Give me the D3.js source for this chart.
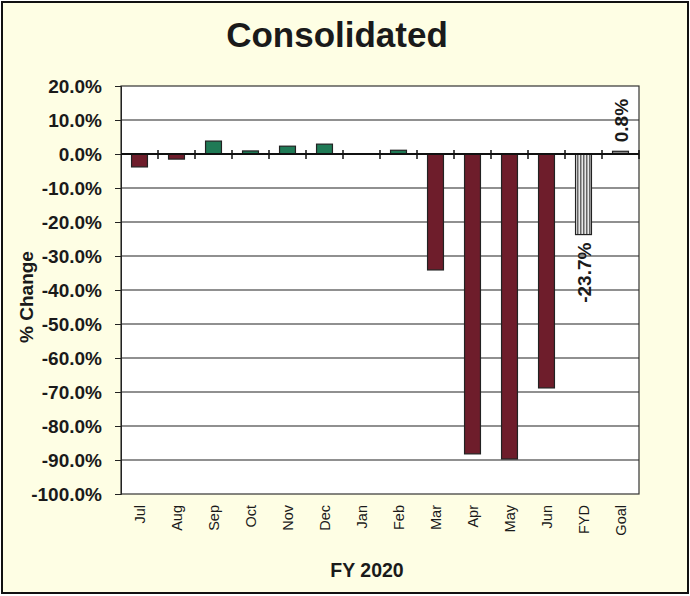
<!DOCTYPE html>
<html>
<head>
<meta charset="utf-8">
<script src="https://cdn.jsdelivr.net/npm/d3@7"></script>
<style>
  body { margin: 0; background: #fff; }
  svg { display: block; font-family: Arial, "Liberation Sans", sans-serif; }
</style>
</head>
<body>
<div id="chart"></div>
<script>
const months = ["Jul", "Aug", "Sep", "Oct", "Nov", "Dec", "Jan", "Feb", "Mar", "Apr", "May", "Jun", "FYD", "Goal"];
const changes = [-3.8, -1.5, 3.8, 0.9, 2.3, 2.9, 0.1, 1.1, -34.1, -88.2, -89.7, -68.8, -23.7, 0.8];
const yTicks = [20, 10, 0, -10, -20, -30, -40, -50, -60, -70, -80, -90, -100];
const labelled = { "FYD": "-23.7%", "Goal": "0.8%" };

const W = 690, H = 596;
const margin = { top: 86, right: 51, bottom: 102, left: 121 };
const width = W - margin.left - margin.right;
const height = H - margin.top - margin.bottom;

const svg = d3.select("#chart").append("svg")
    .attr("width", W)
    .attr("height", H);

// pattern for the FYD bar
const pat = svg.append("defs").append("pattern")
    .attr("id", "stripes")
    .attr("patternUnits", "userSpaceOnUse")
    .attr("width", 3).attr("height", 4);
pat.append("rect").attr("width", 3).attr("height", 4).attr("fill", "#e8e8e8");
pat.append("rect").attr("x", 0).attr("width", 1.5).attr("height", 4).attr("fill", "#666");

// background + frame
svg.append("rect")
    .attr("x", 2).attr("y", 2)
    .attr("width", W - 4).attr("height", H - 5)
    .attr("fill", "#fefee4")
    .attr("stroke", "#111")
    .attr("stroke-width", 2);

svg.append("text")
    .attr("x", 337).attr("y", 47)
    .attr("text-anchor", "middle")
    .style("font-size", "35px")
    .style("font-weight", "bold")
    .style("fill", "#1a1a1a")
    .text("Consolidated");

const g = svg.append("g")
    .attr("transform", `translate(${margin.left},${margin.top})`);

const x = d3.scaleBand()
    .domain(months)
    .range([0, width])
    .paddingInner(0.57)
    .paddingOuter(0.285);

const y = d3.scaleLinear()
    .domain([-100, 20])
    .range([height, 0]);

g.append("rect")
    .attr("width", width).attr("height", height)
    .attr("fill", "#fff");

// gridlines
g.selectAll(".grid")
    .data(yTicks.filter(d => d > -100 && d < 20))
    .enter().append("line")
    .attr("class", "grid")
    .attr("x1", 0).attr("x2", width)
    .attr("y1", d => y(d)).attr("y2", d => y(d))
    .attr("stroke", "#222")
    .attr("stroke-width", 1.2);

g.append("rect")
    .attr("width", width).attr("height", height)
    .attr("fill", "none")
    .attr("stroke", "#333")
    .attr("stroke-width", 1.2);

// bars
g.selectAll(".bar")
    .data(months)
    .enter().append("rect")
    .attr("class", "bar")
    .attr("x", (d) => x(d))
    .attr("width", x.bandwidth())
    .attr("y", (d, i) => y(Math.max(0, changes[i])))
    .attr("height", (d, i) => Math.abs(y(changes[i]) - y(0)))
    .attr("fill", (d, i) => {
        if (d === "FYD") return "url(#stripes)";
        if (d === "Goal") return "#8a8a8a";
        return changes[i] < 0 ? "#6e1d2b" : "#1f7a56";
    })
    .attr("stroke", "#222")
    .attr("stroke-width", 1.2);

// y axis
const yAxis = d3.axisLeft(y)
    .tickValues(yTicks)
    .tickSize(6)
    .tickFormat(d => d3.format(".1f")(d).replace("\u2212", "-") + "%");
const ya = g.append("g").call(yAxis);
ya.select(".domain").attr("stroke", "#222");
ya.selectAll(".tick line").attr("stroke", "#222");
ya.selectAll(".tick text")
    .attr("x", -19)
    .style("font-size", "19px")
    .style("font-weight", "bold")
    .style("fill", "#1a1a1a");

// zero line with crossing ticks
g.append("line")
    .attr("x1", 0).attr("x2", width)
    .attr("y1", y(0)).attr("y2", y(0))
    .attr("stroke", "#111")
    .attr("stroke-width", 2);
const step = x.step();
g.selectAll(".xtick")
    .data(d3.range(1, months.length + 1))
    .enter().append("line")
    .attr("x1", d => d * step).attr("x2", d => d * step)
    .attr("y1", y(0) - 4).attr("y2", y(0) + 5)
    .attr("stroke", "#111")
    .attr("stroke-width", 1.5);

// x labels
g.selectAll(".xlab")
    .data(months)
    .enter().append("text")
    .attr("transform", d => `translate(${x(d) + x.bandwidth() / 2 + 5.5},${height + 11}) rotate(-90)`)
    .attr("text-anchor", "end")
    .style("font-size", "14.5px")
    .style("fill", "#1a1a1a")
    .text(d => d);

// data labels
g.selectAll(".dlab")
    .data(months.filter(d => labelled[d]))
    .enter().append("text")
    .attr("transform", d => {
        const v = changes[months.indexOf(d)];
        const cx = x(d) + x.bandwidth() / 2 + 7;
        const cy = v < 0 ? y(v) + 8 : y(v) - 9;
        return `translate(${cx},${cy}) rotate(-90)`;
    })
    .attr("text-anchor", d => changes[months.indexOf(d)] < 0 ? "end" : "start")
    .style("font-size", "19px")
    .style("font-weight", "bold")
    .style("fill", "#1a1a1a")
    .text(d => labelled[d]);

// axis titles
svg.append("text")
    .attr("transform", "translate(33,297) rotate(-90)")
    .attr("text-anchor", "middle")
    .style("font-size", "19px")
    .style("font-weight", "bold")
    .style("fill", "#1a1a1a")
    .text("% Change");

svg.append("text")
    .attr("x", 367).attr("y", 577)
    .attr("text-anchor", "middle")
    .style("font-size", "19.5px")
    .style("font-weight", "bold")
    .style("fill", "#1a1a1a")
    .text("FY 2020");
</script>
</body>
</html>
